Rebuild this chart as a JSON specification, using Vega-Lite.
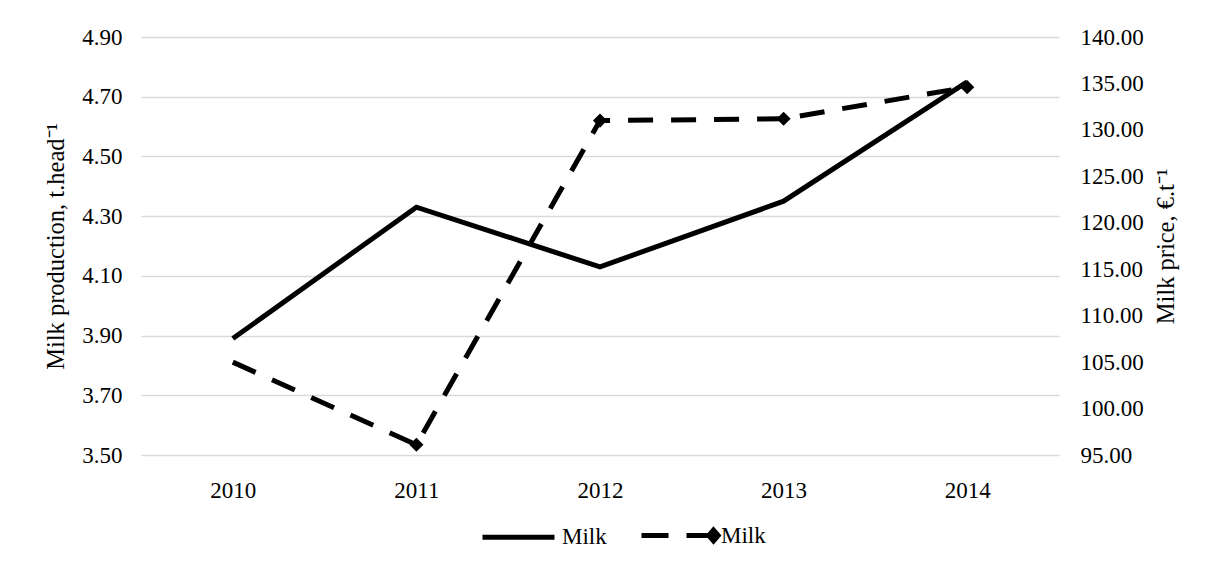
{
  "$schema": "https://vega.github.io/schema/vega-lite/v6.json",
  "width": 918,
  "height": 418,
  "autosize": {"type": "none"},
  "padding": {"left": 141, "top": 37, "right": 153, "bottom": 109},
  "background": "white",
  "config": {
    "font": "Liberation Serif",
    "view": {"stroke": null},
    "axis": {
      "labelFont": "Liberation Serif",
      "titleFont": "Liberation Serif",
      "labelFontSize": 23,
      "titleFontSize": 24.5,
      "titleFontWeight": "normal",
      "labelColor": "black",
      "titleColor": "black",
      "domain": false,
      "ticks": false,
      "tickSize": 0
    }
  },
  "data": {
    "values": [
      {"year": "2010", "production": 3.89, "price": 105.0},
      {"year": "2011", "production": 4.33, "price": 96.1},
      {"year": "2012", "production": 4.13, "price": 131.0},
      {"year": "2013", "production": 4.35, "price": 131.2},
      {"year": "2014", "production": 4.75, "price": 134.6}
    ]
  },
  "encoding": {
    "x": {
      "field": "year",
      "type": "ordinal",
      "scale": {"padding": 0.5},
      "axis": {"title": null, "labelAngle": 0, "labelPadding": 24, "grid": false}
    }
  },
  "layer": [
    {
      "mark": {"type": "line", "strokeWidth": 5, "strokeCap": "butt"},
      "encoding": {
        "y": {
          "field": "production",
          "type": "quantitative",
          "scale": {"domain": [3.5, 4.9], "zero": false, "nice": false},
          "axis": {
            "orient": "left",
            "values": [3.5, 3.7, 3.9, 4.1, 4.3, 4.5, 4.7, 4.9],
            "format": ".2f",
            "grid": true,
            "gridColor": "#d9d9d9",
            "gridWidth": 1.5,
            "labelPadding": 19,
            "title": "Milk production, t.head⁻¹",
            "titlePadding": 13
          }
        },
        "color": {
          "datum": "production",
          "scale": {"domain": ["production", "price"], "range": ["black", "black"]},
          "legend": {
            "orient": "none",
            "legendX": 339,
            "legendY": 460,
            "direction": "horizontal",
            "title": null,
            "labelExpr": "'Milk'",
            "labelFont": "Liberation Serif",
            "labelFontSize": 23,
            "labelColor": "black",
            "symbolSize": 5184,
            "symbolStrokeWidth": 5,
            "labelOffset": 5,
            "columnPadding": 24,
            "encode": {
              "symbols": {
                "update": {
                  "shape": {"signal": "datum.value === 'price' ? 'M-1,0L-0.25,0M0.25,0L1,0M1,-0.15L1.13,0L1,0.15L0.87,0Z' : 'M-1,0L1,0'"},
                  "fill": {"value": "black"},
                  "stroke": {"value": "black"}
                }
              }
            }
          }
        }
      }
    },
    {
      "encoding": {
        "y": {
          "field": "price",
          "type": "quantitative",
          "scale": {"domain": [95, 140], "zero": false, "nice": false},
          "axis": {
            "orient": "right",
            "values": [95, 100, 105, 110, 115, 120, 125, 130, 135, 140],
            "format": ".2f",
            "grid": false,
            "labelPadding": 21,
            "title": "Milk price, €.t⁻¹",
            "titleAngle": -90,
            "titleBaseline": "top",
            "titlePadding": 11
          }
        }
      },
      "layer": [
        {
          "mark": {"type": "line", "strokeWidth": 5, "strokeDash": [25, 18], "strokeCap": "butt"},
          "encoding": {"color": {"datum": "price"}}
        },
        {
          "transform": [{"filter": "datum.year !== '2010'"}],
          "mark": {"type": "point", "shape": "diamond", "filled": true, "size": 200, "color": "black", "opacity": 1},
          "encoding": {}
        }
      ]
    }
  ],
  "resolve": {"scale": {"y": "independent"}}
}
